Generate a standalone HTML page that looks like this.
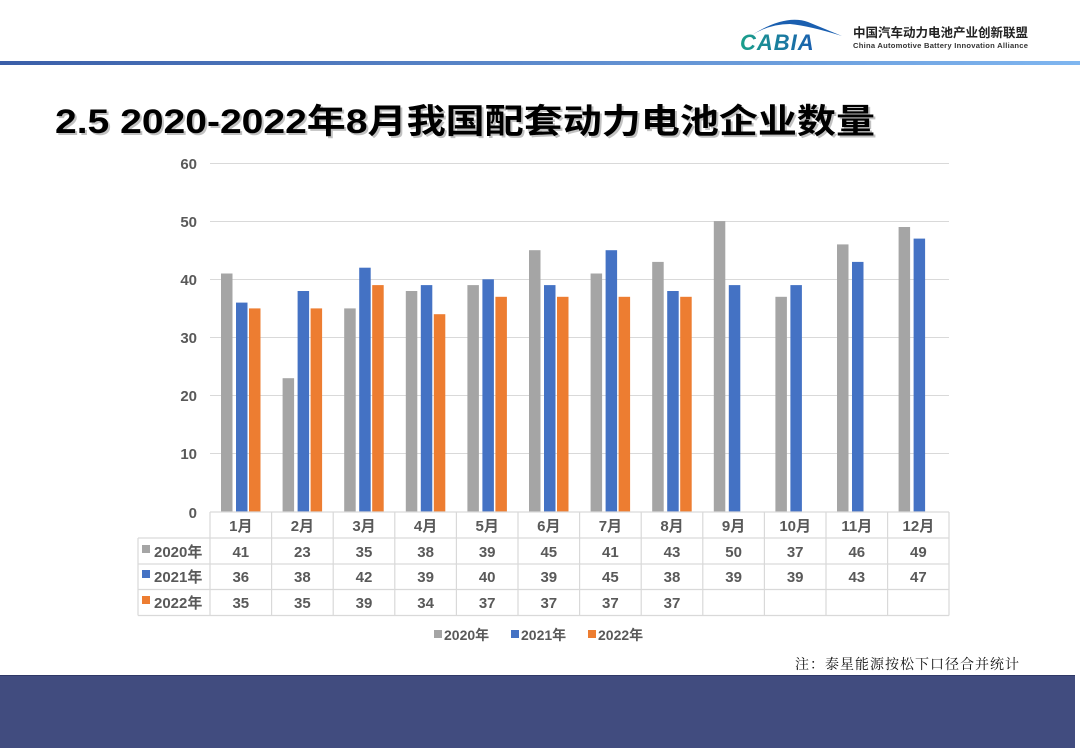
<!DOCTYPE html>
<html><head><meta charset="utf-8"><style>
body{margin:0;width:1080px;height:748px;overflow:hidden;background:#fff;font-family:"Liberation Sans","Noto Sans CJK SC",sans-serif}
</style></head><body>
<svg width="1080" height="748" viewBox="0 0 1080 748" xmlns="http://www.w3.org/2000/svg" style="display:block;font-family:'Liberation Sans','Noto Sans CJK SC',sans-serif">
<defs>
<linearGradient id="hl" x1="0" x2="1"><stop offset="0" stop-color="#3a5ea8"/><stop offset="1" stop-color="#7fb6f0"/></linearGradient>
<linearGradient id="lg" x1="0" x2="1"><stop offset="0" stop-color="#1aa08a"/><stop offset="1" stop-color="#1a5fb0"/></linearGradient>
</defs>
<rect x="0" y="61" width="1080" height="4" fill="url(#hl)"/>
<path d="M752 35 Q785 14 808 22 L842 36 Q810 26 790 24 Q770 24 752 35 Z" fill="#1a5fb0"/>
<text x="740" y="50" font-size="22" font-weight="bold" font-style="italic" fill="url(#lg)" letter-spacing="1">CABIA</text>
<text x="853" y="37" font-size="12.5" font-weight="bold" fill="#222">中国汽车动力电池产业创新联盟</text>
<text x="853" y="48" font-size="7.6" font-weight="bold" fill="#333" textLength="175">China Automotive Battery Innovation Alliance</text>
<text x="57" y="135" font-size="34" font-weight="bold" fill="#999" opacity="0.6" textLength="820" lengthAdjust="spacingAndGlyphs">2.5 2020-2022年8月我国配套动力电池企业数量</text>
<text x="55" y="133" font-size="34" font-weight="bold" fill="#000" textLength="820" lengthAdjust="spacingAndGlyphs">2.5 2020-2022年8月我国配套动力电池企业数量</text>
<g stroke="#d9d9d9" stroke-width="1">
<line x1="210" y1="163.5" x2="949" y2="163.5"/><line x1="210" y1="221.5" x2="949" y2="221.5"/><line x1="210" y1="279.5" x2="949" y2="279.5"/><line x1="210" y1="337.5" x2="949" y2="337.5"/><line x1="210" y1="395.5" x2="949" y2="395.5"/><line x1="210" y1="453.5" x2="949" y2="453.5"/>
</g>
<g font-size="15" font-weight="bold" fill="#595959" text-anchor="end">
<text x="197" y="169">60</text><text x="197" y="227">50</text><text x="197" y="285">40</text><text x="197" y="343">30</text><text x="197" y="401">20</text><text x="197" y="459">10</text><text x="197" y="518">0</text>
</g>
<g>
<g transform="translate(210,0)"><rect x="11" y="273.5" width="11.5" height="238.5" fill="#a5a5a5"/><rect x="26" y="302.6" width="11.5" height="209.4" fill="#4472c4"/><rect x="39" y="308.4" width="11.5" height="203.6" fill="#ed7d31"/></g>
<g transform="translate(271.6,0)"><rect x="11" y="378.2" width="11.5" height="133.8" fill="#a5a5a5"/><rect x="26" y="291" width="11.5" height="221" fill="#4472c4"/><rect x="39" y="308.4" width="11.5" height="203.6" fill="#ed7d31"/></g>
<g transform="translate(333.2,0)"><rect x="11" y="308.4" width="11.5" height="203.6" fill="#a5a5a5"/><rect x="26" y="267.7" width="11.5" height="244.3" fill="#4472c4"/><rect x="39" y="285.1" width="11.5" height="226.9" fill="#ed7d31"/></g>
<g transform="translate(394.8,0)"><rect x="11" y="291" width="11.5" height="221" fill="#a5a5a5"/><rect x="26" y="285.1" width="11.5" height="226.9" fill="#4472c4"/><rect x="39" y="314.2" width="11.5" height="197.8" fill="#ed7d31"/></g>
<g transform="translate(456.4,0)"><rect x="11" y="285.1" width="11.5" height="226.9" fill="#a5a5a5"/><rect x="26" y="279.3" width="11.5" height="232.7" fill="#4472c4"/><rect x="39" y="296.8" width="11.5" height="215.2" fill="#ed7d31"/></g>
<g transform="translate(518,0)"><rect x="11" y="250.2" width="11.5" height="261.8" fill="#a5a5a5"/><rect x="26" y="285.1" width="11.5" height="226.9" fill="#4472c4"/><rect x="39" y="296.8" width="11.5" height="215.2" fill="#ed7d31"/></g>
<g transform="translate(579.6,0)"><rect x="11" y="273.5" width="11.5" height="238.5" fill="#a5a5a5"/><rect x="26" y="250.2" width="11.5" height="261.8" fill="#4472c4"/><rect x="39" y="296.8" width="11.5" height="215.2" fill="#ed7d31"/></g>
<g transform="translate(641.2,0)"><rect x="11" y="261.9" width="11.5" height="250.1" fill="#a5a5a5"/><rect x="26" y="291" width="11.5" height="221" fill="#4472c4"/><rect x="39" y="296.8" width="11.5" height="215.2" fill="#ed7d31"/></g>
<g transform="translate(702.8,0)"><rect x="11" y="221.1" width="11.5" height="290.9" fill="#a5a5a5"/><rect x="26" y="285.1" width="11.5" height="226.9" fill="#4472c4"/></g>
<g transform="translate(764.4,0)"><rect x="11" y="296.8" width="11.5" height="215.2" fill="#a5a5a5"/><rect x="26" y="285.1" width="11.5" height="226.9" fill="#4472c4"/></g>
<g transform="translate(826,0)"><rect x="11" y="244.4" width="11.5" height="267.6" fill="#a5a5a5"/><rect x="26" y="261.9" width="11.5" height="250.1" fill="#4472c4"/></g>
<g transform="translate(887.6,0)"><rect x="11" y="227" width="11.5" height="285" fill="#a5a5a5"/><rect x="26" y="238.6" width="11.5" height="273.4" fill="#4472c4"/></g>
</g>
<g stroke="#d9d9d9" stroke-width="1.2" fill="none">
<line x1="210" y1="512" x2="949" y2="512"/>
<line x1="138" y1="538" x2="949" y2="538"/><line x1="138" y1="564" x2="949" y2="564"/><line x1="138" y1="589.5" x2="949" y2="589.5"/><line x1="138" y1="615.5" x2="949" y2="615.5"/>
<line x1="138" y1="538" x2="138" y2="615.5"/>
<line x1="210" y1="512" x2="210" y2="615.5"/><line x1="271.6" y1="512" x2="271.6" y2="615.5"/><line x1="333.2" y1="512" x2="333.2" y2="615.5"/><line x1="394.8" y1="512" x2="394.8" y2="615.5"/><line x1="456.4" y1="512" x2="456.4" y2="615.5"/><line x1="518" y1="512" x2="518" y2="615.5"/><line x1="579.6" y1="512" x2="579.6" y2="615.5"/><line x1="641.2" y1="512" x2="641.2" y2="615.5"/><line x1="702.8" y1="512" x2="702.8" y2="615.5"/><line x1="764.4" y1="512" x2="764.4" y2="615.5"/><line x1="826" y1="512" x2="826" y2="615.5"/><line x1="887.6" y1="512" x2="887.6" y2="615.5"/><line x1="949" y1="512" x2="949" y2="615.5"/>
</g>
<g font-size="15" font-weight="bold" fill="#595959" text-anchor="middle">
<text x="240.8" y="531">1月</text><text x="302.4" y="531">2月</text><text x="364" y="531">3月</text><text x="425.6" y="531">4月</text><text x="487.2" y="531">5月</text><text x="548.8" y="531">6月</text><text x="610.4" y="531">7月</text><text x="672" y="531">8月</text><text x="733.6" y="531">9月</text><text x="795.2" y="531">10月</text><text x="856.8" y="531">11月</text><text x="918.4" y="531">12月</text>
<text x="240.8" y="557">41</text><text x="302.4" y="557">23</text><text x="364" y="557">35</text><text x="425.6" y="557">38</text><text x="487.2" y="557">39</text><text x="548.8" y="557">45</text><text x="610.4" y="557">41</text><text x="672" y="557">43</text><text x="733.6" y="557">50</text><text x="795.2" y="557">37</text><text x="856.8" y="557">46</text><text x="918.4" y="557">49</text>
<text x="240.8" y="582">36</text><text x="302.4" y="582">38</text><text x="364" y="582">42</text><text x="425.6" y="582">39</text><text x="487.2" y="582">40</text><text x="548.8" y="582">39</text><text x="610.4" y="582">45</text><text x="672" y="582">38</text><text x="733.6" y="582">39</text><text x="795.2" y="582">39</text><text x="856.8" y="582">43</text><text x="918.4" y="582">47</text>
<text x="240.8" y="608">35</text><text x="302.4" y="608">35</text><text x="364" y="608">39</text><text x="425.6" y="608">34</text><text x="487.2" y="608">37</text><text x="548.8" y="608">37</text><text x="610.4" y="608">37</text><text x="672" y="608">37</text>
</g>
<g font-size="15" font-weight="bold" fill="#595959">
<rect x="142" y="545" width="8" height="8" fill="#a5a5a5"/><text x="154" y="557">2020年</text>
<rect x="142" y="570" width="8" height="8" fill="#4472c4"/><text x="154" y="582">2021年</text>
<rect x="142" y="596" width="8" height="8" fill="#ed7d31"/><text x="154" y="608">2022年</text>
</g>
<g font-size="14" font-weight="bold" fill="#595959">
<rect x="434" y="630" width="8" height="8" fill="#a5a5a5"/><text x="444" y="640">2020年</text>
<rect x="511" y="630" width="8" height="8" fill="#4472c4"/><text x="521" y="640">2021年</text>
<rect x="588" y="630" width="8" height="8" fill="#ed7d31"/><text x="598" y="640">2022年</text>
</g>
<text x="1020" y="669" font-size="14" fill="#111" text-anchor="end" font-family="'Noto Serif CJK SC','Noto Sans CJK SC',serif" letter-spacing="1">注：泰星能源按松下口径合并统计</text>
<rect x="0" y="675" width="1075" height="73" fill="#414c7f"/>
<rect x="0" y="675" width="1075" height="1" fill="#2f3866"/>
</svg>
</body></html>
